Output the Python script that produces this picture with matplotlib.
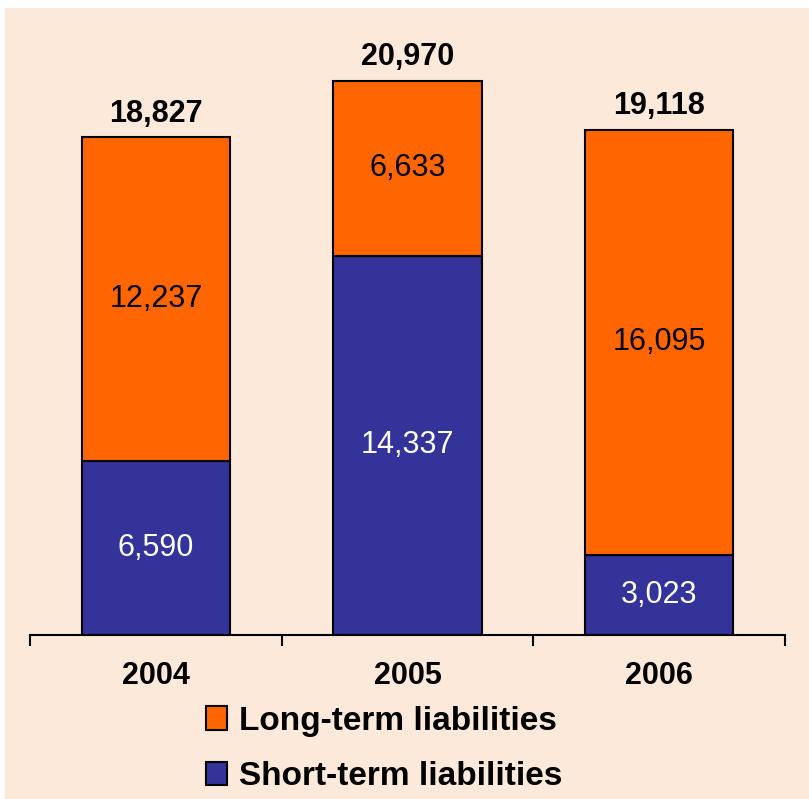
import numpy as np
import matplotlib.pyplot as plt
from matplotlib.patches import Rectangle

years = ["2004", "2005", "2006"]
short_term = [6590, 14337, 3023]
long_term = [12237, 6633, 16095]
totals = [18827, 20970, 19118]

BG = "#FDE9D9"
ORANGE = "#FF6600"
BLUE = "#333399"

plt.rcParams["font.family"] = ["Liberation Sans", "DejaVu Sans"]

fig = plt.figure(figsize=(8.09, 7.99), dpi=100)
fig.patch.set_facecolor("white")
fig.patches.append(Rectangle((5 / 809, 0), 1, 1 - 8 / 799, transform=fig.transFigure,
                             facecolor=BG, edgecolor="none", zorder=-10))

ax = fig.add_axes([30 / 809, 164 / 799, 755 / 809, 575 / 799])
ax.set_facecolor("none")

x = np.arange(len(years))
width = 0.59
b1 = ax.bar(x, short_term, width, color=BLUE, edgecolor="black", linewidth=1.5,
            label="Short-term liabilities", zorder=3)
b2 = ax.bar(x, long_term, width, bottom=short_term, color=ORANGE, edgecolor="black",
            linewidth=1.5, label="Long-term liabilities", zorder=3)

ax.set_xlim(-0.5, 2.5)
ax.set_ylim(0, 21750)

# segment values
for xi, s, l in zip(x, short_term, long_term):
    ax.text(xi, s / 2, f"{s:,}", ha="center", va="center", color="white", fontsize=22)
    ax.text(xi, s + l / 2, f"{l:,}", ha="center", va="center", color="black", fontsize=22)

# totals above each stack
for xi, t in zip(x, totals):
    ax.annotate(f"{t:,}", (xi, t), xytext=(0, 6), textcoords="offset points",
                ha="center", va="bottom", fontsize=22, fontweight="bold")

for side in ["top", "right", "left"]:
    ax.spines[side].set_visible(False)
ax.spines["bottom"].set_linewidth(1.5)
ax.set_yticks([])
ax.set_xticks(x)
ax.set_xticklabels(years, fontweight="bold", fontsize=22)
ax.tick_params(axis="x", which="major", length=0, pad=19)
ax.set_xticks([-0.5, 0.5, 1.5, 2.5], minor=True)
ax.tick_params(axis="x", which="minor", length=8, width=1.5, direction="out")

leg = fig.legend([b2, b1], ["Long-term liabilities", "Short-term liabilities"],
                 loc="center left", bbox_to_anchor=(206 / 809, 50 / 799),
                 frameon=False, prop={"weight": "bold", "size": 24},
                 handlelength=0.63, handleheight=0.69, handletextpad=0.36,
                 labelspacing=0.74, borderpad=0, borderaxespad=0)
for h in leg.legend_handles:
    h.set_edgecolor("black")
    h.set_linewidth(1.5)

fig.savefig("out.png", dpi=100, facecolor=fig.get_facecolor())
